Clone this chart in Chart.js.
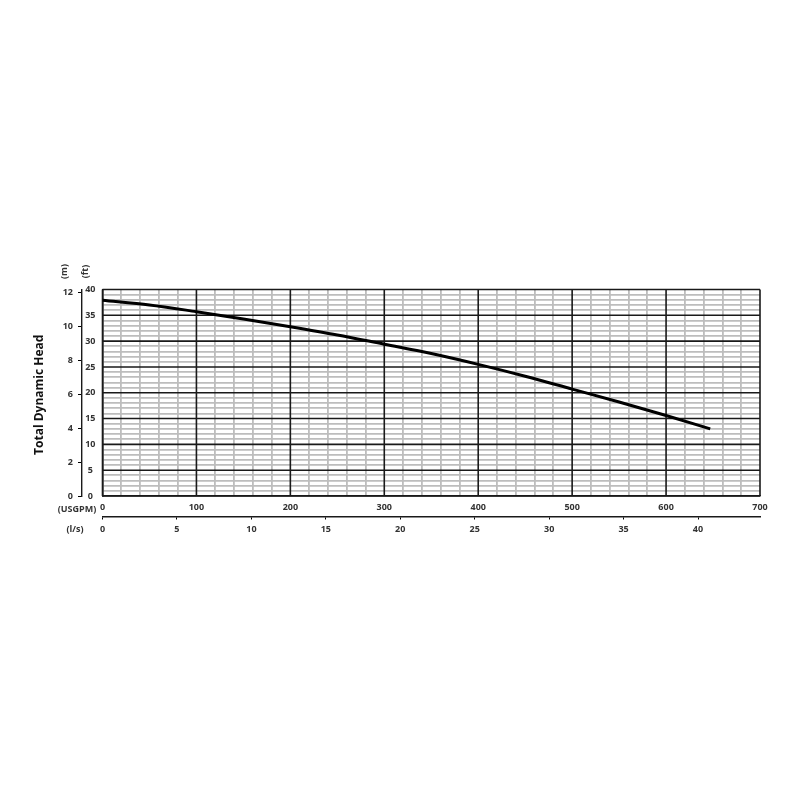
<!DOCTYPE html>
<html><head><meta charset="utf-8">
<script src="https://cdn.jsdelivr.net/npm/chart.js@4.4.1/dist/chart.umd.min.js"></script>
<style>html,body{margin:0;padding:0;background:#fff}canvas{display:block}</style>
</head><body>
<canvas id="c" width="800" height="800"></canvas>
<script>
// ---- data ----
const flowUSGPM = [0, 50, 100, 150, 200, 250, 300, 350, 400, 450, 500, 550, 600, 647];
const headFt    = [37.9, 37.0, 35.7, 34.3, 32.8, 31.2, 29.4, 27.6, 25.5, 23.2, 20.7, 18.2, 15.6, 13.0];
const flowMaxUSGPM = 700;
const headMaxFt = 40;
const flowMajorStep = 100, flowMinorStep = 20;
const headMajorStep = 5, headMinorStep = 1;
const GPM_PER_LPS = 15.8503;
const FT_PER_M = 3.28084;
const axisTitle = 'Total Dynamic Head';
const unitM = '(m)', unitFt = '(ft)', unitGpm = '(USGPM)', unitLps = '(l/s)';

const points = flowUSGPM.map((x, i) => ({x, y: headFt[i]}));
const labelFont = {family: "'Open Sans', sans-serif", size: 9, weight: 'bold'};
const labelColor = '#333';
const minorColor = '#bdbdbd';
const majorColor = '#1a1a1a';

const isMajorX = v => Math.abs(v % flowMajorStep) < 1e-6;
const isMajorY = v => Math.abs(v % headMajorStep) < 1e-6;

// draws the major grid lines on top of the minor ones, from the library's scales
const majorGridPlugin = {
  id: 'majorGrid',
  beforeDatasetsDraw(chart) {
    const ctx = chart.ctx, ca = chart.chartArea;
    const xs = chart.scales.x, ys = chart.scales.y;
    ctx.save();
    ctx.strokeStyle = majorColor;
    ctx.lineWidth = 1.6;
    ctx.beginPath();
    xs.ticks.forEach(t => {
      if (isMajorX(t.value)) { const px = xs.getPixelForValue(t.value); ctx.moveTo(px, ca.top); ctx.lineTo(px, ca.bottom); }
    });
    ys.ticks.forEach(t => {
      if (isMajorY(t.value)) { const py = ys.getPixelForValue(t.value); ctx.moveTo(ca.left, py); ctx.lineTo(ca.right, py); }
    });
    ctx.stroke();
    ctx.restore();
  }
};

const textPlugin = {
  id: 'texts',
  afterDraw(chart) {
    const ctx = chart.ctx;
    const y2 = chart.scales.y2, x = chart.scales.x, x2 = chart.scales.x2, ca = chart.chartArea;
    ctx.save();
    ctx.fillStyle = labelColor;
    ctx.textAlign = 'center';
    ctx.textBaseline = 'middle';
    ctx.font = "bold 9px 'Open Sans', sans-serif";
    const rot = (t, cx, cy) => { ctx.save(); ctx.translate(cx, cy); ctx.rotate(-Math.PI/2); ctx.fillText(t, 0, 0); ctx.restore(); };
    rot(unitM, y2.right - 18, ca.top - 18);
    rot(unitFt, y2.right + 3, ca.top - 18);
    ctx.fillText(unitGpm, 77, x.top + 13);
    ctx.fillText(unitLps, 75, x2.top + 13);
    ctx.fillStyle = '#111';
    ctx.font = "bold 12px 'Open Sans', sans-serif";
    rot(axisTitle, 40, (ca.top + ca.bottom) / 2 + 2);
    ctx.restore();
  }
};

new Chart(document.getElementById('c'), {
  type: 'line',
  data: {
    datasets: [{
      data: points,
      borderColor: '#000',
      borderWidth: 3,
      pointRadius: 0,
      fill: false,
      tension: 0.4,
      cubicInterpolationMode: 'monotone',
      xAxisID: 'x', yAxisID: 'y'
    }]
  },
  options: {
    responsive: false,
    animation: false,
    devicePixelRatio: 1,
    layout: {padding: {left: 52, right: 40, top: 289.5, bottom: 253.5}},
    plugins: {legend: {display: false}, tooltip: {enabled: false}},
    scales: {
      x: {
        type: 'linear', position: 'bottom', weight: 0,
        min: 0, max: flowMaxUSGPM,
        afterFit: s => { s.height = 20.5; },
        ticks: {stepSize: flowMinorStep, autoSkip: false, maxRotation: 0, padding: 6,
          font: labelFont, color: labelColor,
          callback: v => (isMajorX(v) ? String(v) : '')},
        grid: {drawTicks: false,
          color: c => (c.tick && isMajorX(c.tick.value) ? 'rgba(0,0,0,0)' : minorColor),
          lineWidth: 1.8},
        border: {display: true, color: majorColor, width: 1.6}
      },
      x2: {
        type: 'linear', position: 'bottom', weight: 1,
        min: 0, max: flowMaxUSGPM / GPM_PER_LPS,
        afterFit: s => { s.height = 30; },
        ticks: {stepSize: 5, includeBounds: false, autoSkip: false, maxRotation: 0, padding: 5,
          font: labelFont, color: labelColor},
        grid: {drawOnChartArea: false, drawTicks: true, tickLength: 3, color: '#000', lineWidth: 1},
        border: {display: true, color: majorColor, width: 1.4}
      },
      y: {
        type: 'linear', position: 'left', weight: 0,
        min: 0, max: headMaxFt,
        afterFit: s => { s.width = 20.5; },
        ticks: {stepSize: headMinorStep, autoSkip: false, crossAlign: 'center', padding: 7,
          font: labelFont, color: labelColor,
          callback: v => (isMajorY(v) ? String(v) : '')},
        grid: {drawTicks: false,
          color: c => (c.tick && isMajorY(c.tick.value) ? 'rgba(0,0,0,0)' : minorColor),
          lineWidth: 1.8},
        border: {display: true, color: majorColor, width: 1.6}
      },
      y2: {
        type: 'linear', position: 'left', weight: 1,
        min: 0, max: headMaxFt / FT_PER_M,
        afterFit: s => { s.width = 30; },
        ticks: {stepSize: 2, includeBounds: false, autoSkip: false, padding: 5,
          font: labelFont, color: labelColor},
        grid: {drawOnChartArea: false, drawTicks: true, tickLength: 4, color: '#000', lineWidth: 1},
        border: {display: true, color: majorColor, width: 1.4}
      }
    }
  },
  plugins: [majorGridPlugin, textPlugin]
});
</script>
</body></html>
